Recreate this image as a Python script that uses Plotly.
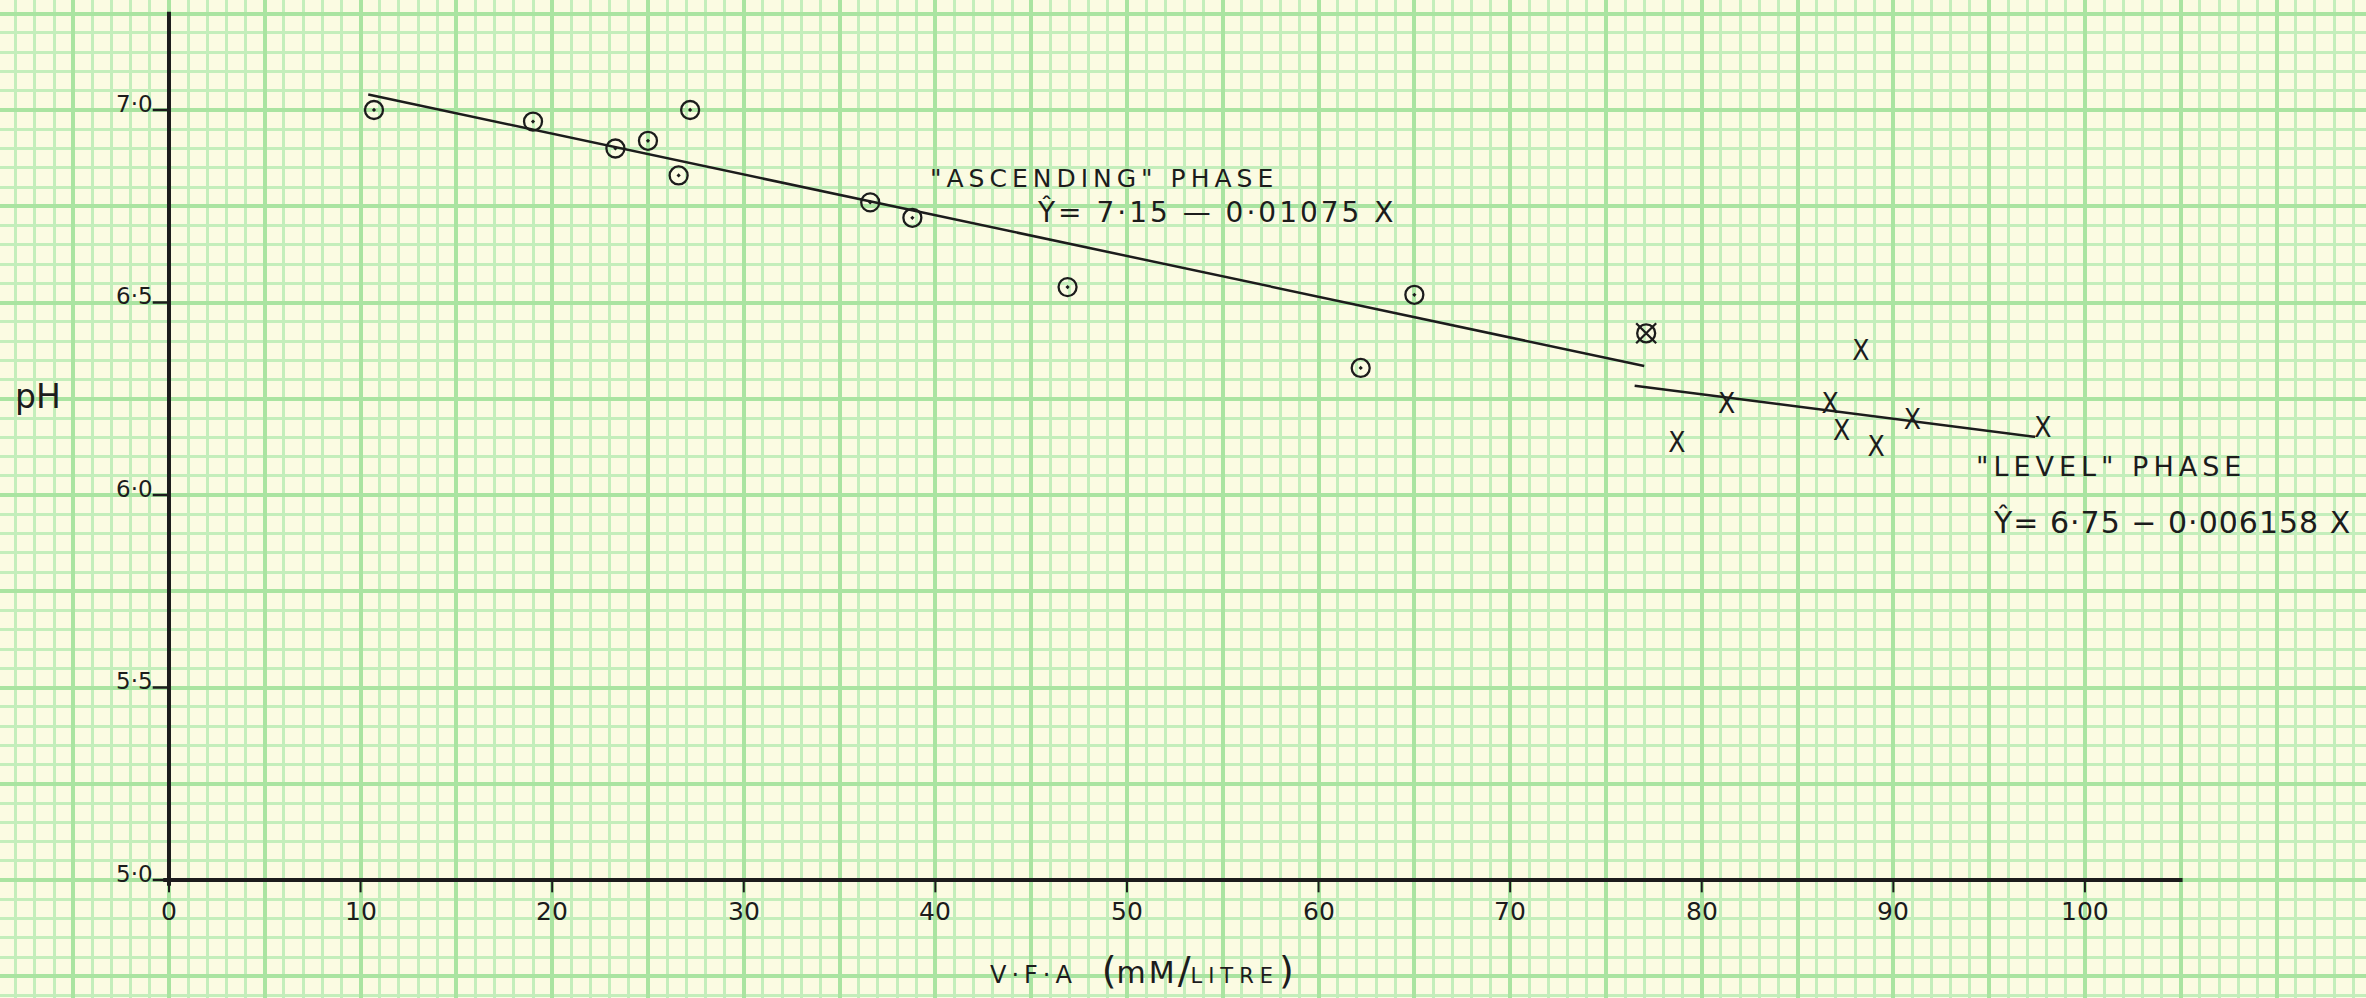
import plotly.graph_objects as go

# ---- data ----
asc_x = [10.7, 19.0, 23.3, 25.0, 27.2, 26.6, 36.6, 38.8, 46.9, 65.0, 62.2]
asc_y = [7.00, 6.97, 6.90, 6.92, 7.00, 6.83, 6.76, 6.72, 6.54, 6.52, 6.33]

both_x = [77.1]
both_y = [6.42]

lev_x = [78.7, 81.3, 86.7, 87.3, 88.3, 89.1, 91.0, 97.8]
lev_y = [6.13, 6.23, 6.23, 6.16, 6.37, 6.12, 6.19, 6.17]

asc_fit_x = [10.4, 77.0]
asc_fit_y = [7.04, 6.335]
lev_fit_x = [76.5, 97.4]
lev_fit_y = [6.284, 6.151]

x_ticks = [0, 10, 20, 30, 40, 50, 60, 70, 80, 90, 100]
x_tick_labels = ["0", "10", "20", "30", "40", "50", "60", "70", "80", "90", "100"]
y_ticks = [5.0, 5.5, 6.0, 6.5, 7.0]
y_tick_labels = ["5·0", "5·5", "6·0", "6·5", "7·0"]

# ---- styling ----
INK = "#1c1c1c"
PAPER = "#FBFBE2"
GRID_MAJOR = "#AAE4A1"
GRID_MINOR = "#C4EEBB"
FONT = "DejaVu Sans"
XFONT = "DejaVu Sans Condensed, DejaVu Sans"

X_RANGE = [-8.82, 114.67]
Y_RANGE = [4.6935, 7.2857]

fig = go.Figure()

# fit lines
fig.add_trace(go.Scatter(x=asc_fit_x, y=asc_fit_y, mode="lines",
                         line=dict(color=INK, width=2.5), hoverinfo="skip"))
fig.add_trace(go.Scatter(x=lev_fit_x, y=lev_fit_y, mode="lines",
                         line=dict(color=INK, width=2.5), hoverinfo="skip"))

# ascending points
fig.add_trace(go.Scatter(x=asc_x, y=asc_y, mode="markers",
                         marker=dict(symbol="circle-open-dot", size=18,
                                     color=INK, line=dict(width=2.3, color=INK))))
# crossed circle point
fig.add_trace(go.Scatter(x=both_x, y=both_y, mode="markers",
                         marker=dict(symbol="circle-open", size=18,
                                     color=INK, line=dict(width=2.3, color=INK))))
fig.add_trace(go.Scatter(x=both_x, y=both_y, mode="markers",
                         marker=dict(symbol="x-thin-open", size=20,
                                     color=INK, line=dict(width=2.3, color=INK))))
# level points
fig.add_trace(go.Scatter(x=lev_x, y=lev_y, mode="text", text=["X"] * len(lev_x),
                         textposition="middle center",
                         textfont=dict(family=XFONT, size=28, color=INK)))

shapes = []
# axis lines
shapes.append(dict(type="line", xref="x", yref="y", x0=-0.3, x1=105.1, y0=5.0, y1=5.0,
                   line=dict(color=INK, width=4)))
shapes.append(dict(type="line", xref="x", yref="y", x0=0, x1=0, y0=4.985, y1=7.255,
                   line=dict(color=INK, width=4)))
# tick marks
for t in x_ticks:
    shapes.append(dict(type="line", xref="x", yref="y", x0=t, x1=t, y0=5.0, y1=4.968,
                       line=dict(color=INK, width=2)))
for t in y_ticks:
    shapes.append(dict(type="line", xref="x", yref="y", x0=-0.85, x1=0, y0=t, y1=t,
                       line=dict(color=INK, width=2.5)))

annotations = []
for t, lab in zip(x_ticks, x_tick_labels):
    annotations.append(dict(x=t, y=4.917, xref="x", yref="y", text=lab, showarrow=False,
                            xanchor="center", yanchor="middle",
                            font=dict(family=FONT, size=25, color=INK)))
for t, lab in zip(y_ticks, y_tick_labels):
    annotations.append(dict(x=-0.75, y=t + 0.016, xref="x", yref="y", text=lab, showarrow=False,
                            xanchor="right", yanchor="middle",
                            font=dict(family=FONT, size=23, color=INK)))

annotations.append(dict(x=-6.85, y=6.255, xref="x", yref="y", text="pH", showarrow=False,
                        xanchor="center", yanchor="middle",
                        font=dict(family=FONT, size=33, color=INK)))
annotations.append(dict(x=50.8, y=4.766, xref="x", yref="y",
                        text="<span style='font-size:24px;letter-spacing:5px'>V·F·A</span>   "
                             "<span style='font-size:38px'>(</span>"
                             "<span style='font-size:30px;letter-spacing:3px'>mM</span>"
                             "<span style='font-size:38px'>/</span>"
                             "<span style='font-size:21px;letter-spacing:6px'>LITRE</span>"
                             "<span style='font-size:38px'>)</span>",
                        showarrow=False, xanchor="center", yanchor="middle",
                        font=dict(family=FONT, size=26, color=INK)))

annotations.append(dict(x=39.6, y=6.821, xref="x", yref="y",
                        text="<span style='letter-spacing:5px'>\"ASCENDING\" PHASE</span>",
                        showarrow=False, xanchor="left", yanchor="middle",
                        font=dict(family=FONT, size=25, color=INK)))
annotations.append(dict(x=45.2, y=6.735, xref="x", yref="y",
                        text="<span style='letter-spacing:3px'>Ŷ= 7·15 — 0·01075 X</span>",
                        showarrow=False, xanchor="left", yanchor="middle",
                        font=dict(family=FONT, size=28, color=INK)))
annotations.append(dict(x=94.2, y=6.073, xref="x", yref="y",
                        text="<span style='letter-spacing:5px'>\"LEVEL\" PHASE</span>",
                        showarrow=False, xanchor="left", yanchor="middle",
                        font=dict(family=FONT, size=27, color=INK)))
annotations.append(dict(x=95.1, y=5.930, xref="x", yref="y",
                        text="<span style='letter-spacing:1px'>Ŷ= 6·75 − 0·006158 X</span>",
                        showarrow=False, xanchor="left", yanchor="middle",
                        font=dict(family=FONT, size=30, color=INK)))

fig.update_layout(
    width=2366, height=998,
    margin=dict(l=0, r=0, t=0, b=0),
    paper_bgcolor=PAPER, plot_bgcolor=PAPER,
    showlegend=False,
    shapes=shapes, annotations=annotations,
    xaxis=dict(range=X_RANGE, showticklabels=False, ticks="", zeroline=False,
               showline=False, tick0=0, dtick=5, showgrid=True,
               gridcolor=GRID_MAJOR, gridwidth=4,
               minor=dict(tick0=0, dtick=1, showgrid=True, gridcolor=GRID_MINOR, gridwidth=2.5)),
    yaxis=dict(range=Y_RANGE, showticklabels=False, ticks="", zeroline=False,
               showline=False, tick0=5, dtick=0.25, showgrid=True,
               gridcolor=GRID_MAJOR, gridwidth=4,
               minor=dict(tick0=5, dtick=0.05, showgrid=True, gridcolor=GRID_MINOR, gridwidth=2.5)),
)

fig.write_html("out.html")
